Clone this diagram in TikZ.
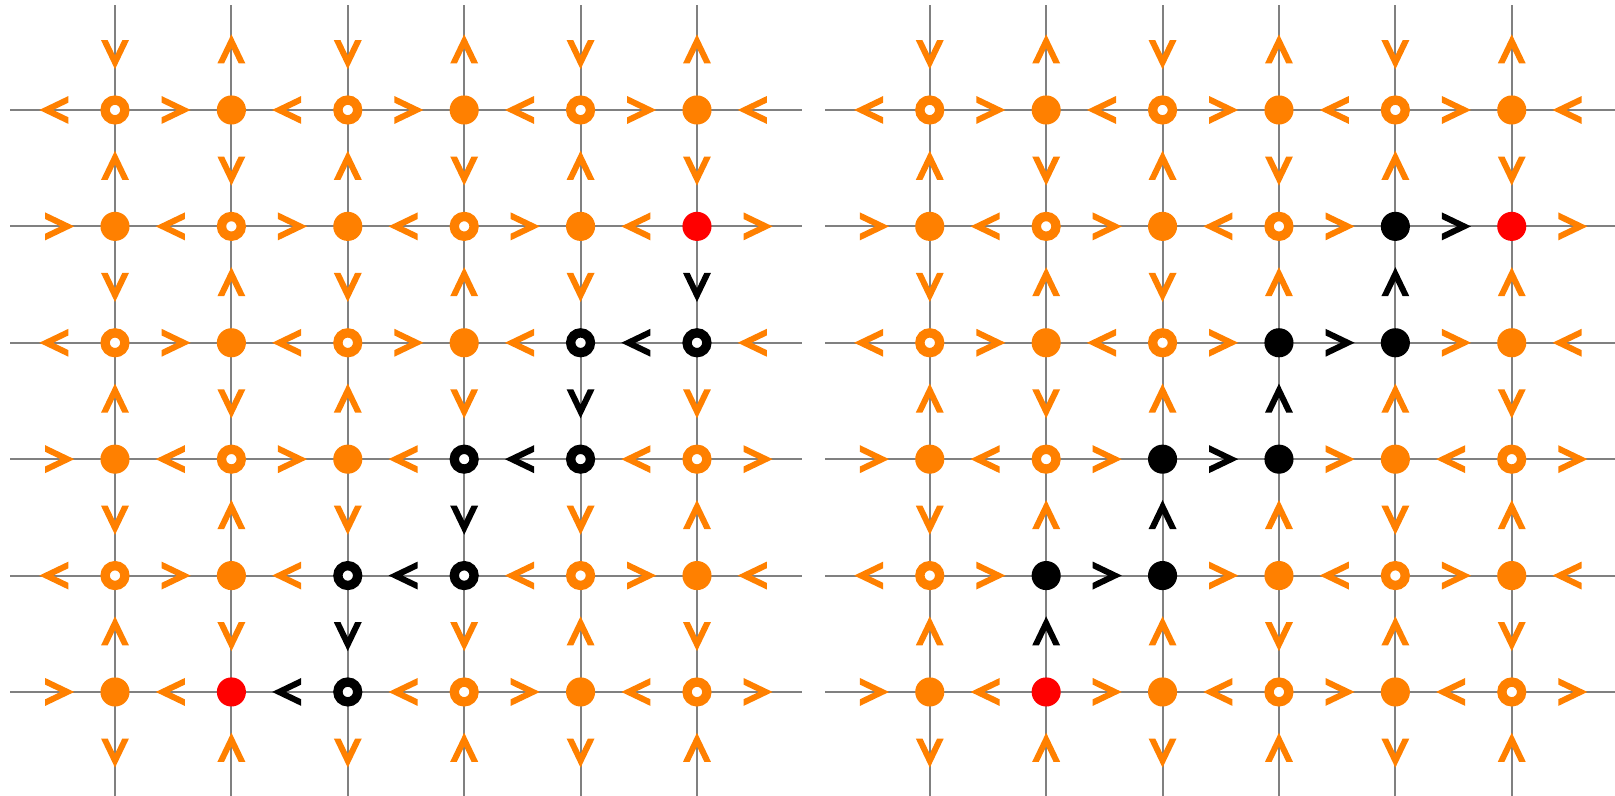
\documentclass[tikz,border=0pt]{standalone}
\usetikzlibrary{decorations.markings}
\definecolor{or}{RGB}{255,128,0}
\definecolor{rd}{RGB}{255,0,0}
\colorlet{bk}{black}
\definecolor{gl}{RGB}{128,128,128}
\tikzset{
  gridline/.style={draw=gl, line width=0.018cm},
  vf/.style={circle, fill=or, minimum size=0.25cm, inner sep=0pt, outer sep=0pt},
  vr/.style={vf, fill=rd},
  vbf/.style={vf, fill=bk},
  vo/.style={circle, draw=or, fill=white, line width=0.08cm, minimum size=0.17cm, inner sep=0pt, outer sep=0pt},
  vbo/.style={vo, draw=bk},
}
\newcommand{\chev}[3]{\path[decoration={markings, mark=at position 0.5 with {\fill[#3] (0.15,0) -- (-0.1,0.12) -- (-0.1,0.063) -- (0.031,0) -- (-0.1,-0.063) -- (-0.1,-0.12) -- cycle;}}, decorate] (#1) -- (#2);}
\newcommand{\hrow}[3]{\foreach \s/\cl [count=\k from 0] in {#3}{\pgfmathtruncatemacro\a{\k-1}\ifnum\s>0 \chev{#1-\a-#2}{#1-\k-#2}{\cl}\else\chev{#1-\k-#2}{#1-\a-#2}{\cl}\fi}}
\newcommand{\vcol}[3]{\foreach \s/\cl [count=\k from 0] in {#3}{\pgfmathtruncatemacro\a{\k-1}\ifnum\s>0 \chev{#1-#2-\a}{#1-#2-\k}{\cl}\else\chev{#1-#2-\k}{#1-#2-\a}{\cl}\fi}}
\newcommand{\nrow}[3]{\foreach \t [count=\c from 0] in {#3}{\node[\t] (n#1-\c-#2) at (#1-\c-#2) {};}}
\begin{document}
\begin{tikzpicture}
\useasboundingbox (-0.988,-0.893) rectangle (12.887,5.945);
\fill[white] (-0.988,-0.893) rectangle (12.887,5.945);
\foreach \g/\ox in {L/0,R/7}{
  \foreach \c in {-1,...,6}{\foreach \r in {-1,...,6}{\coordinate (\g-\c-\r) at (\ox+\c,5-\r);}}
  \foreach \k in {0,...,5}{
    \coordinate (\g-h\k-w) at (\ox-0.9,5-\k);
    \coordinate (\g-h\k-e) at (\ox+5.9,5-\k);
    \coordinate (\g-v\k-n) at (\ox+\k,5.9);
    \coordinate (\g-v\k-s) at (\ox+\k,-0.9);
    \draw[gridline] (\g-h\k-w) -- (\g-h\k-e);
    \draw[gridline] (\g-v\k-n) -- (\g-v\k-s);
  }
}
% left grid, horizontal arrows (1 = right, -1 = left)
\hrow{L}{0}{-1/or,1/or,-1/or,1/or,-1/or,1/or,-1/or}
\hrow{L}{1}{1/or,-1/or,1/or,-1/or,1/or,-1/or,1/or}
\hrow{L}{2}{-1/or,1/or,-1/or,1/or,-1/or,-1/bk,-1/or}
\hrow{L}{3}{1/or,-1/or,1/or,-1/or,-1/bk,-1/or,1/or}
\hrow{L}{4}{-1/or,1/or,-1/or,-1/bk,-1/or,1/or,-1/or}
\hrow{L}{5}{1/or,-1/or,-1/bk,-1/or,1/or,-1/or,1/or}
% left grid, vertical arrows (1 = down, -1 = up)
\vcol{L}{0}{1/or,-1/or,1/or,-1/or,1/or,-1/or,1/or}
\vcol{L}{1}{-1/or,1/or,-1/or,1/or,-1/or,1/or,-1/or}
\vcol{L}{2}{1/or,-1/or,1/or,-1/or,1/or,1/bk,1/or}
\vcol{L}{3}{-1/or,1/or,-1/or,1/or,1/bk,1/or,-1/or}
\vcol{L}{4}{1/or,-1/or,1/or,1/bk,1/or,-1/or,1/or}
\vcol{L}{5}{-1/or,1/or,1/bk,1/or,-1/or,1/or,-1/or}
% right grid, horizontal arrows
\hrow{R}{0}{-1/or,1/or,-1/or,1/or,-1/or,1/or,-1/or}
\hrow{R}{1}{1/or,-1/or,1/or,-1/or,1/or,1/bk,1/or}
\hrow{R}{2}{-1/or,1/or,-1/or,1/or,1/bk,1/or,-1/or}
\hrow{R}{3}{1/or,-1/or,1/or,1/bk,1/or,-1/or,1/or}
\hrow{R}{4}{-1/or,1/or,1/bk,1/or,-1/or,1/or,-1/or}
\hrow{R}{5}{1/or,-1/or,1/or,-1/or,1/or,-1/or,1/or}
% right grid, vertical arrows
\vcol{R}{0}{1/or,-1/or,1/or,-1/or,1/or,-1/or,1/or}
\vcol{R}{1}{-1/or,1/or,-1/or,1/or,-1/or,-1/bk,-1/or}
\vcol{R}{2}{1/or,-1/or,1/or,-1/or,-1/bk,-1/or,1/or}
\vcol{R}{3}{-1/or,1/or,-1/or,-1/bk,-1/or,1/or,-1/or}
\vcol{R}{4}{1/or,-1/or,-1/bk,-1/or,1/or,-1/or,1/or}
\vcol{R}{5}{-1/or,1/or,-1/or,1/or,-1/or,1/or,-1/or}
% vertices
\nrow{L}{0}{vo,vf,vo,vf,vo,vf}
\nrow{L}{1}{vf,vo,vf,vo,vf,vr}
\nrow{L}{2}{vo,vf,vo,vf,vbo,vbo}
\nrow{L}{3}{vf,vo,vf,vbo,vbo,vo}
\nrow{L}{4}{vo,vf,vbo,vbo,vo,vf}
\nrow{L}{5}{vf,vr,vbo,vo,vf,vo}
\nrow{R}{0}{vo,vf,vo,vf,vo,vf}
\nrow{R}{1}{vf,vo,vf,vo,vbf,vr}
\nrow{R}{2}{vo,vf,vo,vbf,vbf,vf}
\nrow{R}{3}{vf,vo,vbf,vbf,vf,vo}
\nrow{R}{4}{vo,vbf,vbf,vf,vo,vf}
\nrow{R}{5}{vf,vr,vf,vo,vf,vo}
\end{tikzpicture}
\end{document}
